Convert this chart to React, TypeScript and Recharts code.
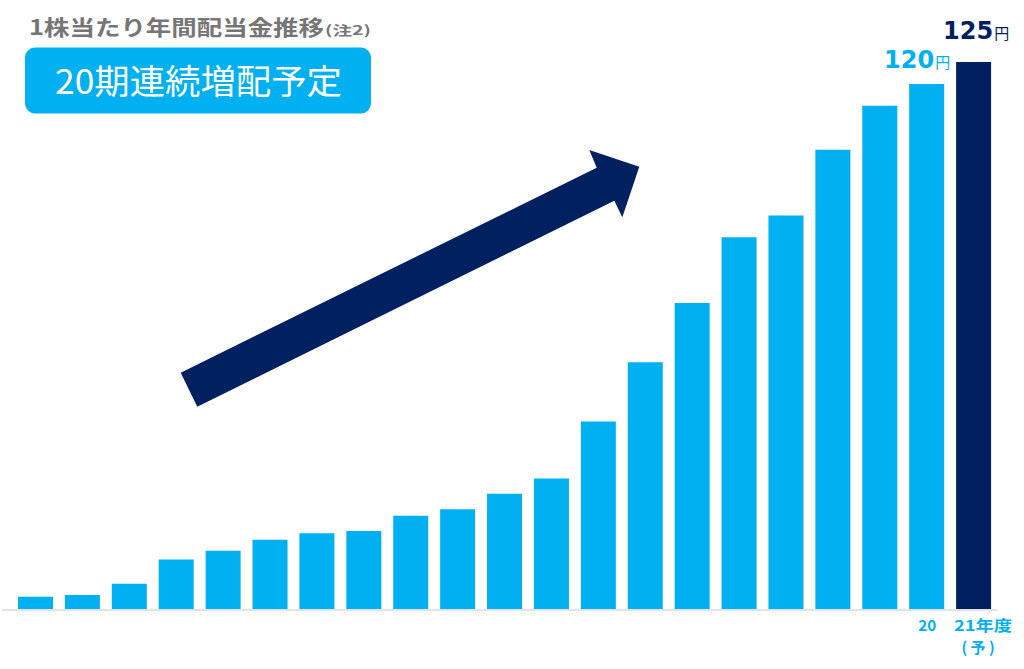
import { BarChart, Bar, XAxis, YAxis, Cell, LabelList } from 'recharts';

const fiscalYears = ['01', '02', '03', '04', '05', '06', '07', '08', '09', '10', '11', '12', '13', '14', '15', '16', '17', '18', '19', '20', '21'];
const dividends = [3, 3.4, 6, 11.5, 13.5, 16, 17.5, 18, 21.5, 23, 26.5, 30, 43, 56.5, 70, 85, 90, 105, 115, 120, 125];
const tickLabels = ['', '', '', '', '', '', '', '', '', '', '', '', '', '', '', '', '', '', '', '20', '21年度'];
const tickSubLabels = ['', '', '', '', '', '', '', '', '', '', '', '', '', '', '', '', '', '', '', '', '(予)'];
const forecastFlags = [false, false, false, false, false, false, false, false, false, false, false, false, false, false, false, false, false, false, false, false, true];
const valueLabels = ['', '', '', '', '', '', '', '', '', '', '', '', '', '', '', '', '', '', '', '120', '125'];

const BLUE = '#00b0f0';
const NAVY = '#002060';
const JP = '"Noto Sans CJK JP", "Noto Sans", sans-serif';

const chartData = fiscalYears.map((year, i) => ({
  year,
  dividend: dividends[i],
  forecast: forecastFlags[i],
}));

const YearTick = (props: any) => {
  const { x, y, payload } = props;
  const idx = payload.index;
  const main = tickLabels[idx];
  const sub = tickSubLabels[idx];
  if (!main) return null;
  const last = idx === fiscalYears.length - 1;
  return (
    <g>
      <text
        x={last ? x - 19.5 : x - 8.5}
        y={y + 21}
        fill={BLUE}
        fontFamily={JP}
        fontWeight={700}
        fontSize={15}
        textLength={last ? 58 : 18}
        lengthAdjust="spacingAndGlyphs"
      >
        {main}
      </text>
      {sub && (
        <text
          x={x - 12}
          y={y + 43}
          fill={BLUE}
          fontFamily={JP}
          fontWeight={700}
          fontSize={15}
          textLength={33}
          lengthAdjust="spacing"
        >
          {sub}
        </text>
      )}
    </g>
  );
};

const ValueLabel = (props: any) => {
  const { x, y, width, index } = props;
  const text = valueLabels[index];
  if (!text) return null;
  const forecast = forecastFlags[index];
  if (forecast) {
    return (
      <text x={x - 13} y={y - 23.5} fill={NAVY} fontFamily="DejaVu Sans" fontWeight={700} fontSize={24}>
        {text}
        <tspan fontFamily={JP} fontSize={15} fontWeight={400} dx={1}>円</tspan>
      </text>
    );
  }
  return (
    <text x={x + width + 6} y={y - 15.7} fill={BLUE} fontFamily="DejaVu Sans" fontWeight={700} fontSize={24} textAnchor="end">
      {text}
      <tspan fontFamily={JP} fontSize={15} fontWeight={400} dx={1}>円</tspan>
    </text>
  );
};

export default function App() {
  return (
    <div style={{ position: 'absolute', left: 0, top: 0, width: 1024, height: 669, background: '#fff' }}>
      <BarChart
        width={1024}
        height={669}
        data={chartData}
        margin={{ top: 62, right: 27, left: 2, bottom: 19 }}
      >
        <XAxis
          dataKey="year"
          interval={0}
          padding={{ left: 10, right: 0 }}
          tickLine={false}
          tickSize={0}
          tickMargin={0}
          height={40}
          axisLine={{ stroke: '#e3e3e3', strokeWidth: 2 }}
          tick={<YearTick />}
        />
        <YAxis hide domain={[0, 125]} />
        <Bar dataKey="dividend" barSize={35} isAnimationActive={false}>
          {chartData.map((d) => (
            <Cell key={d.year} fill={d.forecast ? NAVY : BLUE} />
          ))}
          <LabelList dataKey="dividend" content={<ValueLabel />} />
        </Bar>
      </BarChart>

      <svg width={1024} height={669} style={{ position: 'absolute', left: 0, top: 0, pointerEvents: 'none' }}>
        <text
          x={29}
          y={35}
          fill="#767676"
          fontFamily={JP}
          fontWeight={700}
          fontSize={21}
          textLength={295}
          lengthAdjust="spacingAndGlyphs"
        >
          1株当たり年間配当金推移
        </text>
        <text
          x={325}
          y={35}
          fill="#767676"
          fontFamily={JP}
          fontWeight={700}
          fontSize={13}
          textLength={46}
          lengthAdjust="spacingAndGlyphs"
        >
          (注2)
        </text>
        <rect x={25} y={47.5} width={346} height={66} rx={10} fill={BLUE} />
        <text
          x={55}
          y={94}
          fill="#fff"
          fontFamily={JP}
          fontSize={34}
          textLength={287}
          lengthAdjust="spacingAndGlyphs"
        >
          20期連続増配予定
        </text>
        <polygon
          points="180.7,372.7 596.7,167.7 589.3,150 639.3,166.7 622.3,217.3 614.3,200.7 197.3,406.7"
          fill={NAVY}
        />
      </svg>
    </div>
  );
}
